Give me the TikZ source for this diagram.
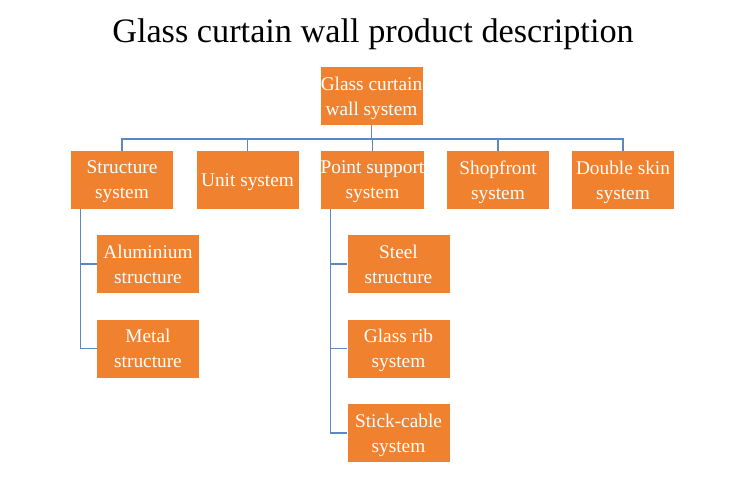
\documentclass[tikz,border=0pt]{standalone}
\usepackage{fontspec}
\setmainfont{Liberation Serif}
\usetikzlibrary{positioning}
\definecolor{boxorange}{HTML}{F0822F}
\definecolor{linkblue}{HTML}{5B87C2}

\begin{document}
\begin{tikzpicture}[
            x=0.75pt, y=-0.75pt,
            item/.style={fill=boxorange, text=white, inner sep=0pt,
                minimum width=76.5pt, minimum height=43.5pt, align=center,
                text depth=0pt, font=\fontsize{14.5}{18.75}\selectfont},
            link/.style={draw=linkblue, line width=1pt},
        ]
            \useasboundingbox (0,0) rectangle (750,484);
            \node[anchor=base, font=\fontsize{25.7}{30}\selectfont] (title) at (373,43)
                {Glass curtain wall product description};

            % top of the tree
            \node[item] (root) at (371.5,96) {Glass curtain\\wall system};

            % first level
            \node[item] (structure) at (122,180) {Structure\\system};
            \node[item] (unit) at (247.5,180) {Unit system};
            \node[item] (point) at (372.5,180) {Point support\\system};
            \node[item] (shopfront) at (498,180) {Shopfront\\system};
            \node[item] (doubleskin) at (623,180) {Double skin\\system};

            % second level
            \node[item] (aluminium) at (148,264) {Aluminium\\structure};
            \node[item, below=19.5pt of aluminium] (metal) {Metal\\structure};
            \node[item] (steel) at (398.5,264) {Steel\\structure};
            \node[item, below=19.5pt of steel] (glassrib) {Glass rib\\system};
            \node[item, below=19.5pt of glassrib] (stickcable) {Stick-cable\\system};

            % connectors
            \coordinate (bus) at (0,139);
            \draw[link] (root.south) -- (root.south |- bus);
            \draw[link] (structure.north) -- (structure.north |- bus)
                -- (doubleskin.north |- bus) -- (doubleskin.north);
            \draw[link] (unit.north) -- (unit.north |- bus);
            \draw[link] (point.north) -- (point.north |- bus);
            \draw[link] (shopfront.north) -- (shopfront.north |- bus);

            \draw[link] ([xshift=7.5pt]structure.south west) |- (aluminium.west);
            \draw[link] ([xshift=7.5pt]structure.south west) |- (metal.west);
            \draw[link] ([xshift=7.5pt]point.south west) |- (steel.west);
            \draw[link] ([xshift=7.5pt]point.south west) |- (glassrib.west);
            \draw[link] ([xshift=7.5pt]point.south west) |- (stickcable.west);
        \end{tikzpicture}
\end{document}
